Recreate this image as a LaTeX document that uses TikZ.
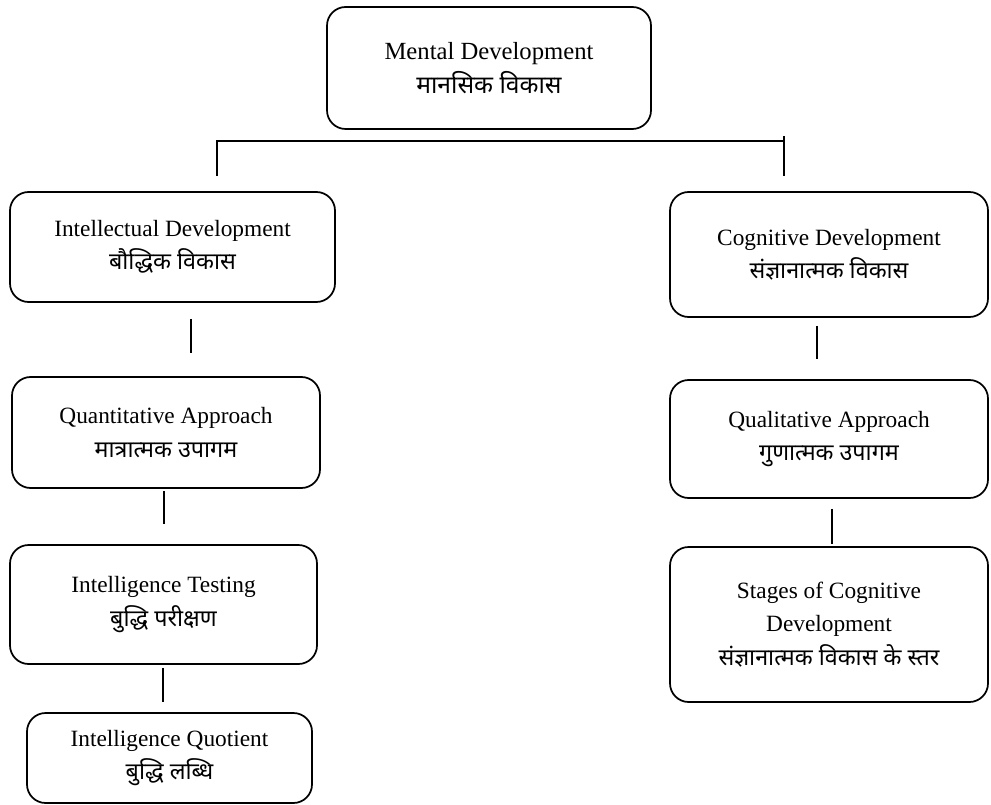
\documentclass[tikz,border=0pt]{standalone}
\usepackage{fontspec}
\setmainfont{Liberation Serif}
\newfontfamily\hindi[Script=Devanagari]{Noto Sans}
\usetikzlibrary{calc}
\newdimen\pxu
\pxu=0.75pt

\begin{document}
\begin{tikzpicture}[x=0.75pt, y=-0.75pt,
    box/.style={draw, rounded corners=14pt, line width=1.3pt, align=center, inner sep=0pt,
        font=\fontsize{17.5}{25}\selectfont},
    link/.style={line width=1.3pt}]
    \useasboundingbox (0, 0) rectangle (991, 805);

    \node[box, minimum width=324\pxu, minimum height=122\pxu, font=\fontsize{18.5}{26}\selectfont] (mental) at (489, 68) {Mental Development\\{\hindi मानसिक विकास}};

    \node[box, minimum width=325\pxu, minimum height=110\pxu] (intel) at (172.5, 247) {Intellectual Development\\{\hindi बौद्धिक विकास}};
    \node[box, minimum width=308\pxu, minimum height=111\pxu] (quant) at (166, 432.5) {Quantitative Approach\\{\hindi मात्रात्मक उपागम}};
    \node[box, minimum width=307\pxu, minimum height=119\pxu] (test) at (163.5, 604.5) {Intelligence Testing\\{\hindi बुद्धि परीक्षण}};
    \node[box, minimum width=285\pxu, minimum height=90\pxu] (iq) at (169.5, 758) {Intelligence Quotient\\{\hindi बुद्धि लब्धि}};

    \node[box, minimum width=318\pxu, minimum height=125\pxu] (cogn) at (829, 254.5) {Cognitive Development\\{\hindi संज्ञानात्मक विकास}};
    \node[box, minimum width=318\pxu, minimum height=118\pxu] (qual) at (829, 439) {Qualitative Approach\\{\hindi गुणात्मक उपागम}};
    \node[box, minimum width=318\pxu, minimum height=155\pxu] (stages) at (829, 624.5) {Stages of Cognitive\\Development\\{\hindi संज्ञानात्मक विकास के स्तर}};

    \draw[link] ([shift={(44.5, -15)}]intel.north) |- ([shift={(-45, -50)}]cogn.north);
    \draw[link] ([shift={(-45, -55)}]cogn.north) -- ([shift={(-45, -15)}]cogn.north);

    \draw[link] ([shift={(18.5, 16)}]intel.south) -- ([shift={(25, -23)}]quant.north);
    \draw[link] ([shift={(-2, 2)}]quant.south) -- ([shift={(0.5, -20)}]test.north);
    \draw[link] ([shift={(-0.5, 3)}]test.south) -- ([shift={(-6.5, -10)}]iq.north);

    \draw[link] ([shift={(-12, 8)}]cogn.south) -- ([shift={(-12, -20)}]qual.north);
    \draw[link] ([shift={(3, 10)}]qual.south) -- ([shift={(3, -2)}]stages.north);
\end{tikzpicture}
\end{document}
